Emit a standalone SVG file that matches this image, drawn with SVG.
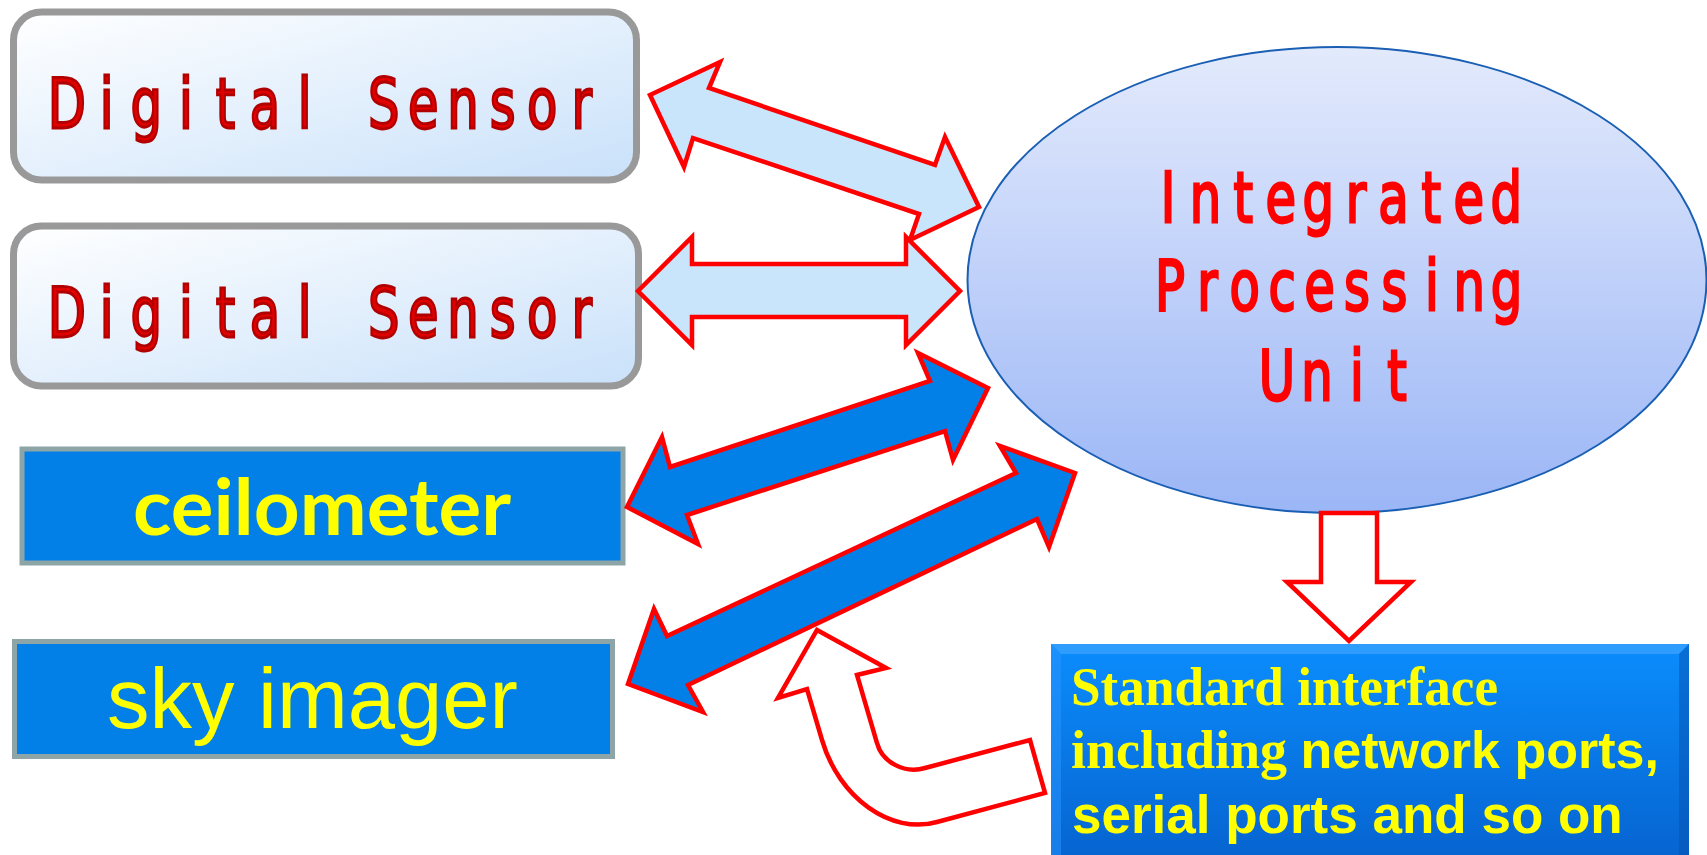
<svg xmlns="http://www.w3.org/2000/svg" width="1707" height="855" viewBox="0 0 1707 855">
  <defs>
    <linearGradient id="sensorFill" x1="0" y1="0" x2="1" y2="1">
      <stop offset="0" stop-color="#ffffff"/>
      <stop offset="1" stop-color="#c9e1fa"/>
    </linearGradient>
    <linearGradient id="unitFill" x1="0" y1="0" x2="0" y2="1">
      <stop offset="0" stop-color="#e3eafc"/>
      <stop offset="1" stop-color="#9bb6f6"/>
    </linearGradient>
    <linearGradient id="ifaceFill" x1="0" y1="0" x2="0" y2="1">
      <stop offset="0" stop-color="#0b8dfd"/>
      <stop offset="1" stop-color="#0664d0"/>
    </linearGradient>
    <style>
      .sensor-box { fill: url(#sensorFill); stroke: #999999; stroke-width: 7; }
      .sensor-text { font-family: "DejaVu Sans", sans-serif; font-size: 69px; fill: #e00000; stroke: #b00000; stroke-width: 2.8; text-anchor: middle; }
      .unit-text { font-family: "DejaVu Sans", sans-serif; font-size: 69px; fill: #ff0000; stroke: #ff0000; stroke-width: 2.8; text-anchor: middle; }
      .device-box { fill: #0380e8; stroke: #8ea5a8; stroke-width: 5; }
      .dev-text { fill: #ffff00; }
      .link-light { fill: #c9e5fc; stroke: #ff0000; stroke-width: 4.5; stroke-linejoin: miter; }
      .link-dark { fill: #0380e8; stroke: #ff0000; stroke-width: 4.5; stroke-linejoin: miter; }
      .link-open { fill: #ffffff; stroke: #ff0000; stroke-width: 4.5; stroke-linejoin: miter; }
      .iface-serif { font-family: "Liberation Serif", "Times New Roman", serif; font-weight: bold; font-size: 54px; fill: #ffff00; }
      .iface-sans { font-family: "Liberation Sans", Arial, sans-serif; font-weight: bold; font-size: 52px; fill: #ffff00; }
    </style>
  </defs>

  <rect width="1707" height="855" fill="#ffffff"/>

  <!-- digital sensor 1 -->
  <g id="sensor1">
    <rect class="sensor-box" x="13.5" y="12" width="623" height="168" rx="28" ry="28"/>
    <text class="sensor-text" transform="scale(0.72,1)" y="128" x="93.06 148.06 203.06 258.06 313.06 368.06 423.06 478.06 533.06 588.06 643.06 698.06 753.06 808.06">Digital Sensor</text>
  </g>

  <!-- digital sensor 2 -->
  <g id="sensor2">
    <rect class="sensor-box" x="13.5" y="226" width="625" height="160" rx="28" ry="28"/>
    <text class="sensor-text" transform="scale(0.72,1)" y="337" x="93.06 148.06 203.06 258.06 313.06 368.06 423.06 478.06 533.06 588.06 643.06 698.06 753.06 808.06">Digital Sensor</text>
  </g>

  <!-- ceilometer -->
  <g id="ceilometer">
    <rect class="device-box" x="22" y="449" width="601" height="114"/>
    <text class="dev-text" x="133" y="535" font-family="Lato, 'Open Sans', sans-serif" font-weight="bold" font-size="78" textLength="378" lengthAdjust="spacingAndGlyphs">ceilometer</text>
  </g>

  <!-- sky imager -->
  <g id="sky-imager">
    <rect class="device-box" x="14.5" y="641.5" width="598" height="115"/>
    <text class="dev-text" x="107" y="728" font-family="'Liberation Sans', Arial, sans-serif" font-size="85">sky imager</text>
  </g>

  <!-- integrated processing unit -->
  <g id="processing-unit">
    <ellipse cx="1337" cy="280" rx="369.5" ry="233" fill="url(#unitFill)" stroke="#1a5fb4" stroke-width="2"/>
    <text class="unit-text" transform="scale(0.72,1)" y="222" x="1622.22 1674.44 1726.67 1778.89 1831.11 1883.33 1935.56 1987.78 2040 2092.22">Integrated</text>
    <text class="unit-text" transform="scale(0.72,1)" y="310" x="1625 1676.94 1728.89 1780.83 1832.78 1884.72 1936.67 1988.61 2040.56 2092.5">Processing</text>
    <text class="unit-text" transform="scale(0.72,1)" y="400" x="1773.61 1829.17 1884.72 1940.28">Unit</text>
  </g>

  <!-- standard interface -->
  <g id="standard-interface">
    <rect x="1051" y="644" width="638" height="215" fill="url(#ifaceFill)"/>
    <polygon points="1051,644 1689,644 1679,654 1061,654" fill="#3fa4ff" opacity="0.7"/>
    <polygon points="1051,644 1061,654 1061,859 1051,859" fill="#2a95ff" opacity="0.5"/>
    <polygon points="1689,644 1679,654 1679,859 1689,859" fill="#0552b0" opacity="0.5"/>
    <text class="iface-serif" x="1071" y="705" textLength="427" lengthAdjust="spacingAndGlyphs">Standard interface</text>
    <text x="1071" y="768"><tspan class="iface-serif">including </tspan><tspan class="iface-sans">network ports,</tspan></text>
    <text class="iface-sans" x="1072" y="833" style="font-size:53px">serial ports and so on</text>
  </g>

  <!-- connectors -->
  <g id="connectors">
    <polygon class="link-light" points="650,95 720,62 709,88 935,165 945,137 979,207 910,240 919,214 693,138 684,167"/>
    <polygon class="link-light" points="638,291 692,237 692,264 906,264 906,237 960,291 906,345 906,317 692,317 692,345"/>
    <polygon class="link-dark" points="627,507 662,437 670,467 930,381 918,353 988,388 953,460 945,431 687,515 698,544"/>
    <polygon class="link-dark" points="628,684 654,609 667,636 1016,473 1000,446 1075,473 1049,547 1037,519 688,685 703,712"/>
    <polygon class="link-open" points="1321,513 1377,513 1377,582 1411,582 1349,641 1287,582 1321,582"/>
    <path class="link-open" d="M817,630 L886,668 L857,675 L877,743 C882,762 904,774 925,768 L1030,740 L1045,793 L937,822 C891,835 839,798 822,740 L807,689 L778,698 Z"/>
  </g>
</svg>
